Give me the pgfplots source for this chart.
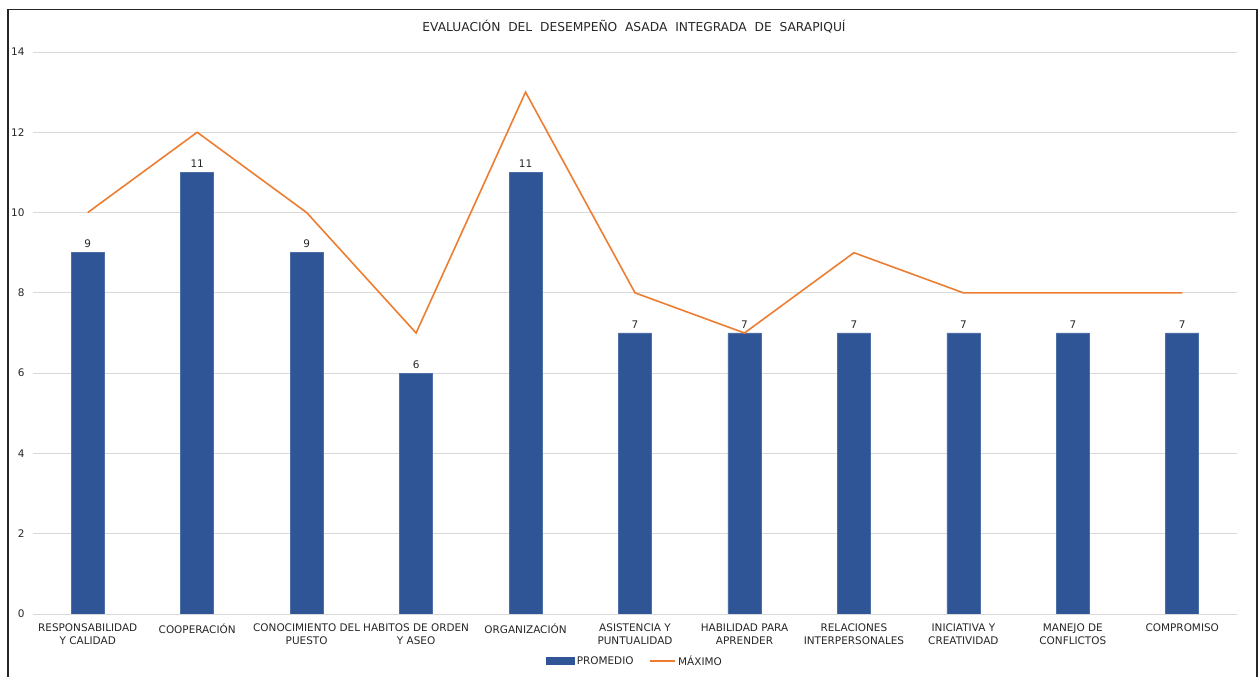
\documentclass[border=0pt]{standalone}
\usepackage{fontspec}
\setmainfont{DejaVu Sans}
\usepackage{pgfplots}
\pgfplotsset{compat=1.18}
\definecolor{barblue}{HTML}{2F5597}
\definecolor{lineorange}{HTML}{ED7D31}
\definecolor{gridgray}{HTML}{D9D9D9}
\definecolor{txt}{HTML}{262626}
\newcommand{\lbl}{\fontsize{10.5}{13}\selectfont}

\begin{document}
\begin{tikzpicture}[x=1bp,y=1bp]
\path[use as bounding box] (0,0) rectangle (1260,677);
% outer frame
\draw[line width=1.2bp, black!85] (8,0) -- (8,667.5) -- (1257,667.5) -- (1257,0);
% title
\node[txt, font=\fontsize{12.3}{14}\selectfont] at (634,650)
  {EVALUACIÓN\ \ DEL\ \ DESEMPEÑO\ \ ASADA\ \ INTEGRADA\ \ DE\ \ SARAPIQUÍ};
\begin{axis}[
  at={(33bp,63bp)}, anchor=south west,
  scale only axis, width=1204bp, height=562bp,
  xmin=-0.5, xmax=10.5, ymin=0, ymax=14,
  ytick={0,2,...,14},
  xtick={0,...,10},
  xticklabels={
    {RESPONSABILIDAD\\Y CALIDAD},
    {COOPERACIÓN},
    {CONOCIMIENTO DEL\\PUESTO},
    {HABITOS DE ORDEN\\Y ASEO},
    {ORGANIZACIÓN},
    {ASISTENCIA Y\\PUNTUALIDAD},
    {HABILIDAD PARA\\APRENDER},
    {RELACIONES\\INTERPERSONALES},
    {INICIATIVA Y\\CREATIVIDAD},
    {MANEJO DE\\CONFLICTOS},
    {COMPROMISO}},
  xticklabel style={align=center, font=\lbl, text=txt, yshift=-6bp},
  yticklabel style={font=\lbl, text=txt, xshift=-5bp},
  /pgf/number format/assume math mode=true,
  major tick length=0pt,
  ymajorgrids, grid style={gridgray, line width=0.8bp},
  separate axis lines,
  axis x line*=bottom, axis y line*=left,
  x axis line style={gridgray, line width=0.8bp, -},
  y axis line style={draw=none},
  ybar, bar width=33bp,
  legend columns=2,
  legend style={at={(0.5,-0.0836)}, anchor=center, draw=none, fill=none,
    font=\lbl, text=txt,
    /tikz/every even column/.append style={column sep=14bp}},
]
\addplot[fill=barblue, draw=barblue!85!white, line width=0.6bp,
  nodes near coords,
  every node near coord/.append style={font=\lbl, text=txt, yshift=1bp},
  legend image code/.code={\fill[barblue] (0bp,-3.5bp) rectangle (28bp,3.5bp);}]
  coordinates {(0,9) (1,11) (2,9) (3,6) (4,11) (5,7) (6,7) (7,7) (8,7) (9,7) (10,7)};
\addlegendentry{PROMEDIO}
\addplot[sharp plot, lineorange, line width=1.6bp,
  legend image code/.code={\draw[lineorange, line width=1.6bp] (0bp,0bp) -- (25bp,0bp);}]
  coordinates {(0,10) (1,12) (2,10) (3,7) (4,13) (5,8) (6,7) (7,9) (8,8) (9,8) (10,8)};
\addlegendentry{MÁXIMO}
\end{axis}
\end{tikzpicture}
\end{document}
